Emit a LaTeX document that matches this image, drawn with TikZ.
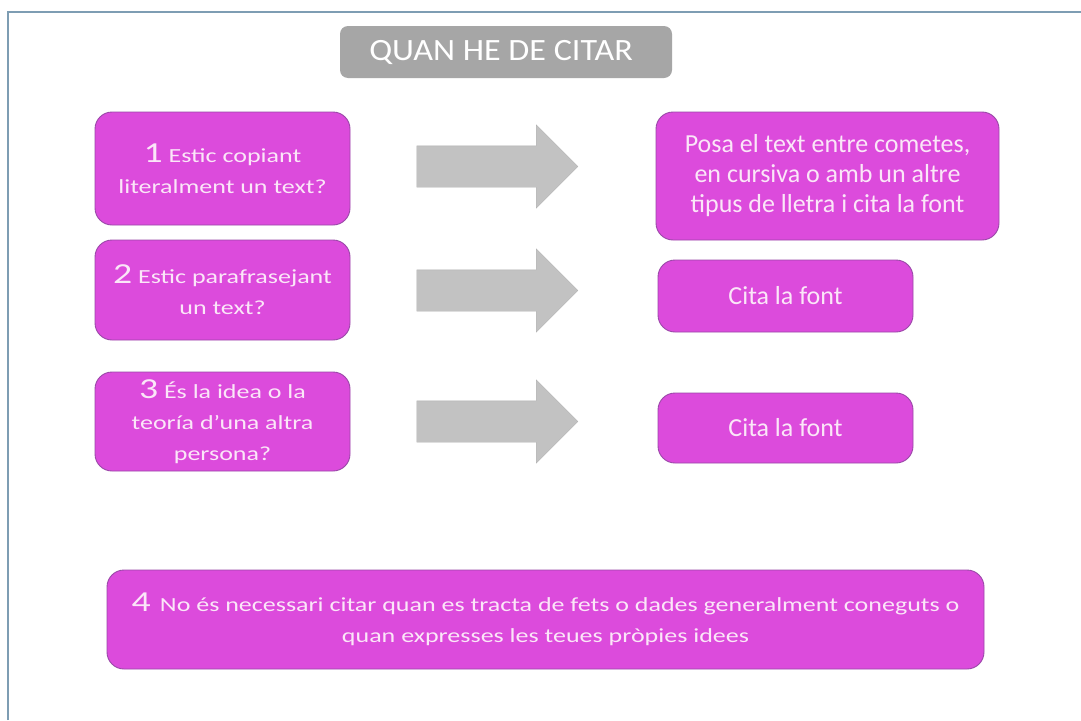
\documentclass[tikz,border=0pt]{standalone}
\usepackage{fontspec}
\setmainfont{Carlito}
\newfontfamily\widefont[FakeStretch=1.3]{Carlito}
\newfontfamily\titlefont[FakeStretch=1.1]{Carlito}
\usetikzlibrary{shapes.arrows}
\definecolor{boxfill}{HTML}{DC4BDC}
\definecolor{boxedge}{HTML}{9A48A8}
\definecolor{boxtext}{HTML}{FBE6F8}
\definecolor{titlefill}{HTML}{A6A6A6}
\definecolor{arrowfill}{HTML}{C2C2C2}
\definecolor{framecol}{HTML}{7E9DB3}
\tikzset{
  pbox/.style={draw=boxedge, line width=0.9pt, fill=boxfill, rounded corners=17pt,
    text=boxtext, align=center, inner sep=0pt},
  qtext/.style={font=\widefont\fontsize{20}{31}\selectfont},
  rtext/.style={font=\fontsize{26}{30}\selectfont},
  titlebox/.style={fill=titlefill, rounded corners=8pt, text=white, inner sep=0pt,
    font=\titlefont\fontsize{31}{32}\selectfont},
  garrow/.style={single arrow, fill=arrowfill, draw=arrowfill!92!black, line width=0.3pt,
    minimum height=161pt, inner xsep=0pt, inner ysep=20.5pt,
    single arrow head extend=21pt, single arrow tip angle=90, anchor=center},
}
\newcommand{\bignum}[1]{{\fontsize{29}{30}\selectfont #1}}
\begin{document}
\begin{tikzpicture}[x=1pt,y=-1pt]
\useasboundingbox (0,0) rectangle (1081,720);
\fill[white] (0,0) rectangle (1081,720);
\draw[framecol, line width=1.2pt] (8,720) -- (8,12) -- (1081,12);

\node[titlebox, minimum width=332pt, minimum height=52pt] (title) at (506,52) {\hspace*{-10pt}QUAN HE DE CITAR};

\node[pbox, qtext, minimum width=255pt, minimum height=113pt] (q1) at (222.5,168.5)
  {\bignum{1} Estic copiant\\literalment un text?};
\node[pbox, qtext, minimum width=255pt, minimum height=100pt] (q2) at (222.5,290)
  {\bignum{2} Estic parafrasejant\\un text?};
\node[pbox, qtext, minimum width=255pt, minimum height=99pt] (q3) at (222.5,421.5)
  {\bignum{3} És la idea o la\\teoría d’una altra\\persona?};

\node[garrow] (a1) at (487,166.5) {};
\node[garrow] (a2) at (487,290.5) {};
\node[garrow] (a3) at (487,421.5) {};

\node[pbox, rtext, minimum width=343pt, minimum height=128pt] (r1) at (827.5,176)
  {Posa el text entre cometes,\\en cursiva o amb un altre\\tipus de lletra i cita la font};
\node[pbox, rtext, minimum width=255pt, minimum height=72pt] (r2) at (785.5,296) {Cita la font};
\node[pbox, rtext, minimum width=255pt, minimum height=70pt] (r3) at (785.5,428) {Cita la font};

\node[pbox, qtext, minimum width=877pt, minimum height=99pt] (q4) at (545.5,619.5)
  {\bignum{4} \,No és necessari citar quan es tracta de fets o dades generalment coneguts o\\quan expresses les teues pròpies idees};
\end{tikzpicture}
\end{document}
